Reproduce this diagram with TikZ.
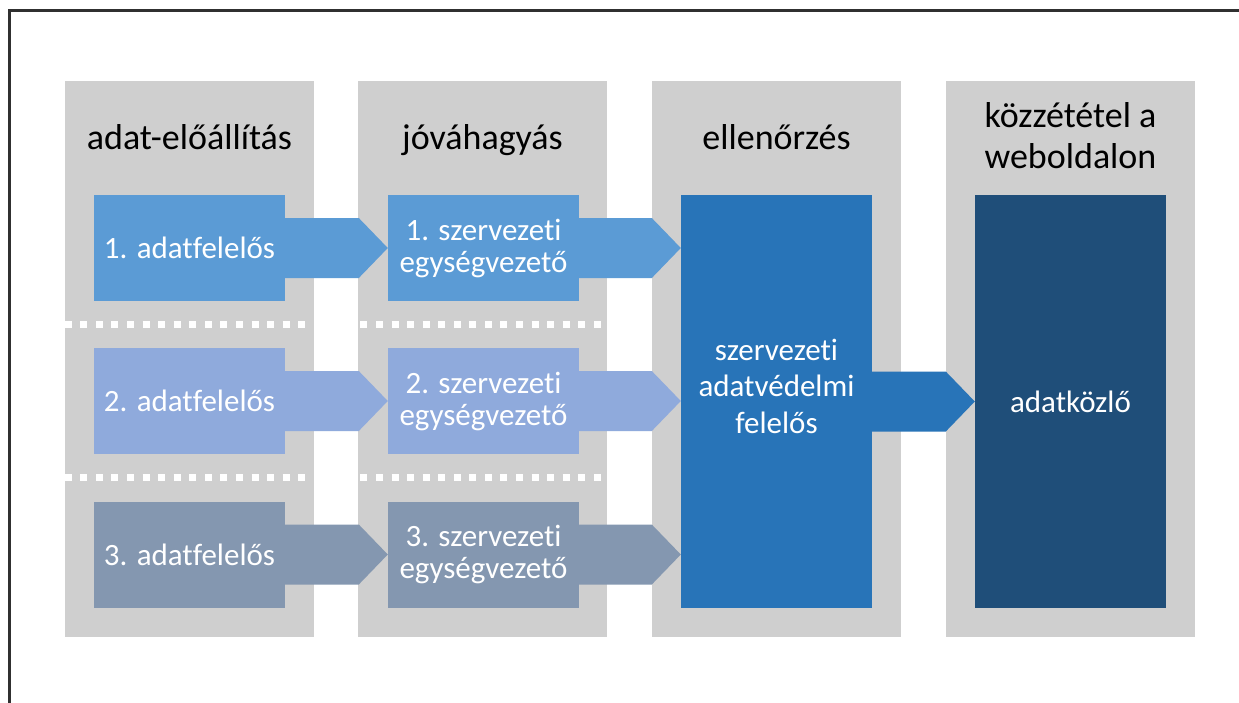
\documentclass[tikz,border=0pt]{standalone}
\usepackage{fontspec}
\setmainfont{Carlito}[Ligatures=NoCommon]
\usetikzlibrary{calc}
\definecolor{colgrey}{HTML}{CFCFCF}
\definecolor{rowone}{HTML}{5B9BD5}
\definecolor{rowtwo}{HTML}{8FAADC}
\definecolor{rowthree}{HTML}{8497B0}
\definecolor{bigblue}{HTML}{2874B8}
\definecolor{darkblue}{HTML}{1F4E79}
\definecolor{framec}{HTML}{303030}
\begin{document}
\begin{tikzpicture}[x=1pt,y=-1pt,
  column/.style={fill=colgrey,draw=none,inner sep=0pt,minimum width=249pt,minimum height=556pt},
  box/.style={draw=none,inner sep=0pt,minimum width=191pt,minimum height=106pt,text=white,align=center,font=\fontsize{31}{32}\selectfont},
  tallbox/.style={draw=none,inner sep=0pt,minimum width=191pt,minimum height=413pt},
  head/.style={anchor=base,align=center,text=black,font=\fontsize{36}{41}\selectfont,inner sep=0pt},
  inner/.style={align=center,text=white,font=\fontsize{31}{36.5}\selectfont,inner sep=0pt},
  sep/.style={draw=white,line width=7pt,dash pattern=on 7pt off 8.56pt}
]
\useasboundingbox (0,0) rectangle (1239,702);
\clip (0,0) rectangle (1239,702);
\fill[white] (0,0) rectangle (1239,702);
\draw[framec,line width=3pt] (9.5,730) -- (9.5,10.5) -- (1260,10.5);

% columns
\node[column] (c1) at (189.5,359) {};
\node[column] (c2) at (482.5,359) {};
\node[column] (c3) at (776.5,359) {};
\node[column] (c4) at (1070.5,359) {};

% headers
\node[head] (h1) at (189.5,149) {adat-előállítás};
\node[head] (h2) at (482.5,149) {jóváhagyás};
\node[head] (h3) at (776.5,149) {ellenőrzés};
\node[head] (h4) at (1070.5,168) {közzététel a\\weboldalon};

% separators
\coordinate (s1) at (0,324.5);
\coordinate (s2) at (0,477.5);
\draw[sep] (c1.west |- s1) -- (c2.east |- s1);
\draw[sep] (c1.west |- s2) -- (c2.east |- s2);

% boxes
\node[box,fill=rowone] (a1) at (189.5,248) {1. adatfelelős};
\node[box,fill=rowtwo] (a2) at (189.5,401) {2. adatfelelős};
\node[box,fill=rowthree] (a3) at (189.5,554.5) {3. adatfelelős};
\node[box,fill=rowone] (j1) at (483.5,248) {1. szervezeti\\egységvezető};
\node[box,fill=rowtwo] (j2) at (483.5,401) {2. szervezeti\\egységvezető};
\node[box,fill=rowthree] (j3) at (483.5,554.5) {3. szervezeti\\egységvezető};
\node[tallbox,fill=bigblue] (ell) at (776.5,401.5) {};
\node[tallbox,fill=darkblue] (koz) at (1070.5,401.5) {};
\node[inner] (ellt) at (776.5,386) {szervezeti\\adatvédelmi\\felelős};
\node[inner] (kozt) at (1070.5,401.5) {adatközlő};

% arrows
\foreach \a/\b/\c in {a1/j1/rowone,a2/j2/rowtwo,a3/j3/rowthree}{
  \fill[\c] ([yshift=30pt]\a.east) -- ([xshift=-29pt,yshift=30pt]\b.west) -- (\b.west)
    -- ([xshift=-29pt,yshift=-30pt]\b.west) -- ([yshift=-30pt]\a.east) -- cycle;
}
\coordinate (t1) at (ell.west |- j1.east);
\coordinate (t2) at (ell.west |- j2.east);
\coordinate (t3) at (ell.west |- j3.east);
\foreach \b/\t/\c in {j1/t1/rowone,j2/t2/rowtwo,j3/t3/rowthree}{
  \fill[\c] ([yshift=30pt]\b.east) -- ([xshift=-29pt,yshift=30pt]\t) -- (\t)
    -- ([xshift=-29pt,yshift=-30pt]\t) -- ([yshift=-30pt]\b.east) -- cycle;
}
\fill[bigblue] ([yshift=30pt]ell.east) -- ([xshift=-29pt,yshift=30pt]koz.west) -- (koz.west)
    -- ([xshift=-29pt,yshift=-30pt]koz.west) -- ([yshift=-30pt]ell.east) -- cycle;
\end{tikzpicture}
\end{document}
